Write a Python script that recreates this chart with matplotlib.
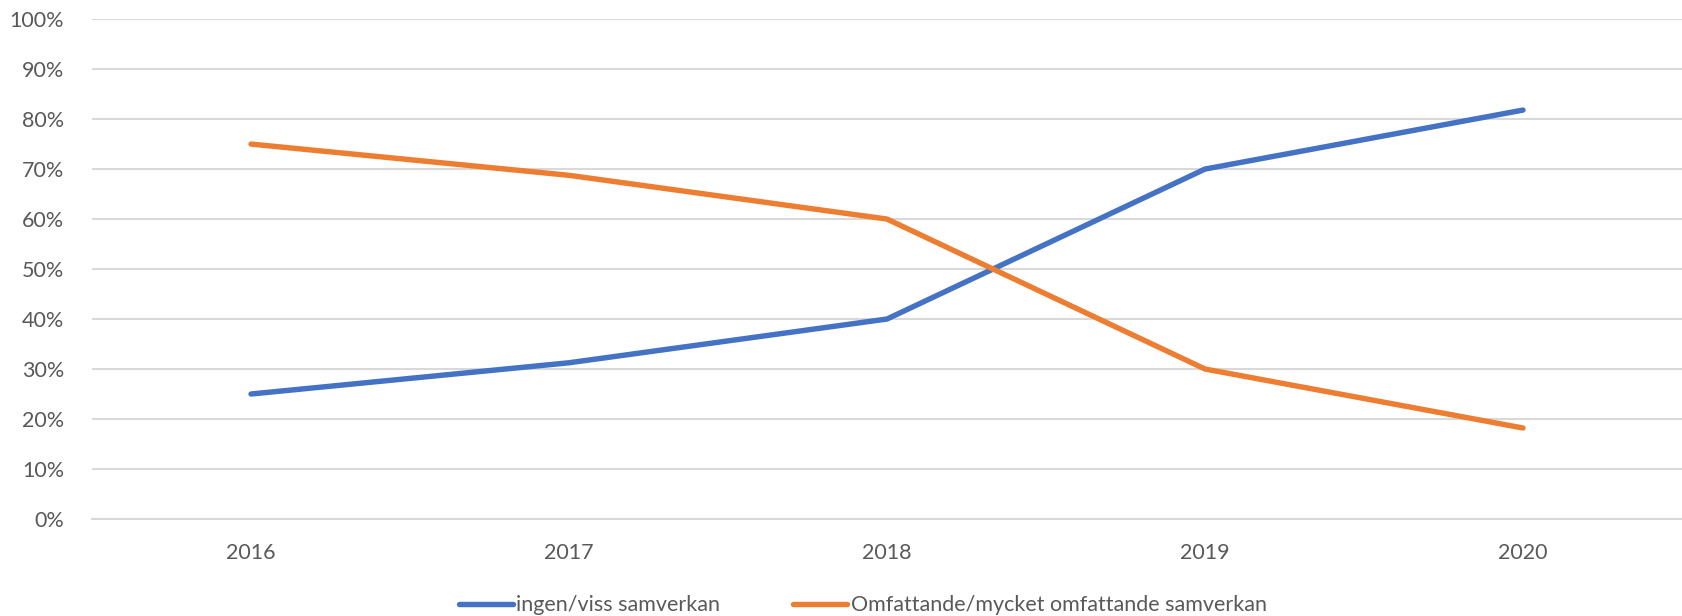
'''Share of respondents by level of collaboration, 2016-2020.'''
import matplotlib
matplotlib.use('Agg')
import matplotlib.pyplot as plt
from matplotlib.ticker import PercentFormatter

years = ['2016', '2017', '2018', '2019', '2020']
ingen_viss = [25.0, 31.25, 40.0, 70.0, 81.8]
omfattande = [75.0, 68.75, 60.0, 30.0, 18.2]
labels = ['ingen/viss samverkan', 'Omfattande/mycket omfattande samverkan']

plt.rcParams['font.family'] = ['Lato', 'DejaVu Sans']
text_color = '#595959'
grid_color = '#D9D9D9'

fig = plt.figure(figsize=(16.82, 6.16), dpi=100)
ax = fig.add_axes([0.0547, 0.1575, 0.9453, 0.8115])

x = range(len(years))
ax.plot(x, ingen_viss, color='#4472C4', linewidth=3.9, solid_capstyle='round',
        solid_joinstyle='round', label=labels[0])
ax.plot(x, omfattande, color='#ED7D31', linewidth=3.9, solid_capstyle='round',
        solid_joinstyle='round', label=labels[1])

ax.set_xlim(-0.5, len(years) - 0.5)
ax.set_ylim(0, 100)
ax.set_yticks(range(0, 101, 10))
ax.yaxis.set_major_formatter(PercentFormatter(decimals=0))
ax.set_xticks(list(x))
ax.set_xticklabels(years)

ax.grid(axis='y', color=grid_color, linewidth=1.5)
ax.set_axisbelow(True)
for side in ['top', 'right', 'left']:
    ax.spines[side].set_visible(False)
ax.spines['bottom'].set_color(grid_color)
ax.spines['bottom'].set_linewidth(1.5)
ax.tick_params(axis='both', length=0, labelsize=15.5, colors=text_color)
ax.tick_params(axis='y', pad=20)
ax.tick_params(axis='x', pad=17)

fig.legend(loc='lower center', bbox_to_anchor=(0.513, -0.03), ncol=2, frameon=False,
           fontsize=15.5, labelcolor=text_color, handlelength=2.5, handletextpad=0.15,
           columnspacing=3.4)

fig.savefig('out.png', dpi=100)
